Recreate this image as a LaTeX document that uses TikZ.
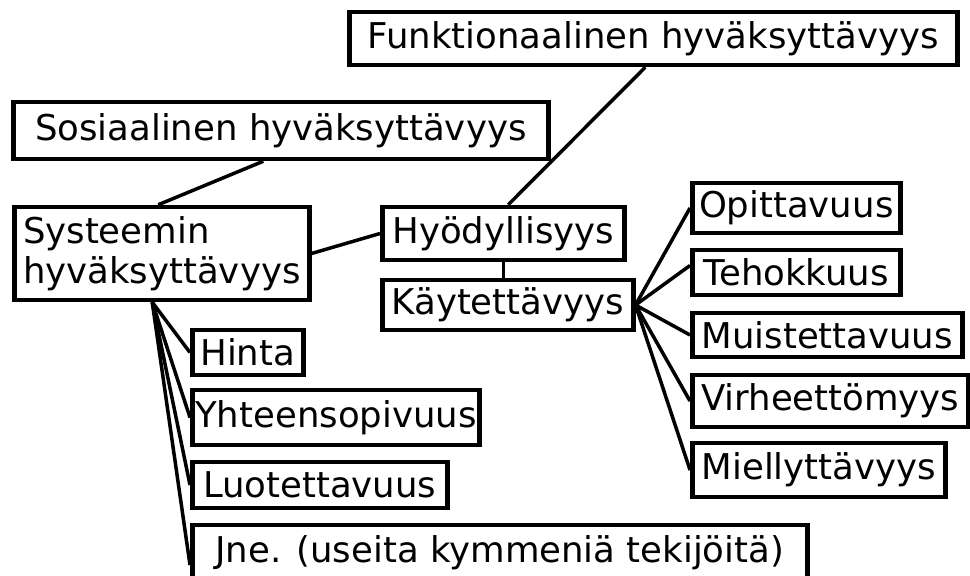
\documentclass[tikz,border=0pt]{standalone}
\usepackage{fontspec}
\setmainfont{DejaVu Sans}
\usetikzlibrary{calc}
\begin{document}
\begin{tikzpicture}[x=1pt,y=1pt,
  box/.style={draw=black, line width=4.5pt, fill=white, inner xsep=3pt, inner ysep=0pt,
              anchor=west, font=\fontsize{35.5}{40}\selectfont},
  link/.style={draw=black, line width=3.5pt}]
\useasboundingbox (0,0) rectangle (970,-576);
% nodes
\node[box, minimum width=608, minimum height=53] (F) at (347,-38.5) {Funktionaalinen hyväksyttävyys};
\node[box, minimum width=535, minimum height=57] (S) at (11,-130.5) {Sosiaalinen hyväksyttävyys};
\node[box, minimum width=295, minimum height=93, align=left, inner xsep=4pt] (Sys) at (12,-253.5) {Systeemin\\hyväksyttävyys};
\node[box, minimum width=242, minimum height=53] (Hy) at (380,-233.5) {Hyödyllisyys};
\node[box, minimum width=251, minimum height=50] (K) at (380,-305) {Käytettävyys};
\node[box, minimum width=208, minimum height=50] (O) at (690,-208) {Opittavuus};
\node[box, minimum width=208, minimum height=45] (T) at (690,-272.5) {Tehokkuus};
\node[box, minimum width=270, minimum height=44] (M) at (690,-335) {Muistettavuus};
\node[box, minimum width=276, minimum height=52] (V) at (690,-401) {Virheettömyys};
\node[box, minimum width=253, minimum height=54] (Mi) at (690,-470) {Miellyttävyys};
\node[box, minimum width=111, minimum height=45] (Hi) at (190,-352.5) {Hinta};
\node[box, minimum width=278, minimum height=55] (Yh) at (190,-417.5) {Yhteensopivuus};
\node[box, minimum width=255, minimum height=46] (Lu) at (190,-485) {Luotettavuus};
\node[box, minimum width=615, minimum height=56] (J) at (190,-553) {Jne. (useita kymmeniä tekijöitä)};
% connectors
\draw[link] ($(S.south)+(-17.5,0)$) -- ($(Sys.north)+(-3.5,0)$);
\draw[link] ($(F.south)+(-8,0)$) -- ($(Hy.north)+(5,0)$);
\draw[link] (Sys.east) -- (Hy.west);
\draw[link] (Hy.south) -- (Hy.south |- K.north);
\draw[link] (K.east) -- (O.west);
\draw[link] (K.east) -- ($(T.west)+(0,7)$);
\draw[link] (K.east) -- (M.west);
\draw[link] (K.east) -- (V.west);
\draw[link] (K.east) -- (Mi.west);
\coordinate (sysfoot) at ($(Sys.south)+(-9.5,0)$);
\draw[link] (sysfoot) -- (Hi.west);
\draw[link] (sysfoot) -- (Yh.west);
\draw[link] (sysfoot) -- (Lu.west);
\draw[link] (sysfoot) -- ($(J.west)+(0,-12)$);
\end{tikzpicture}
\end{document}
